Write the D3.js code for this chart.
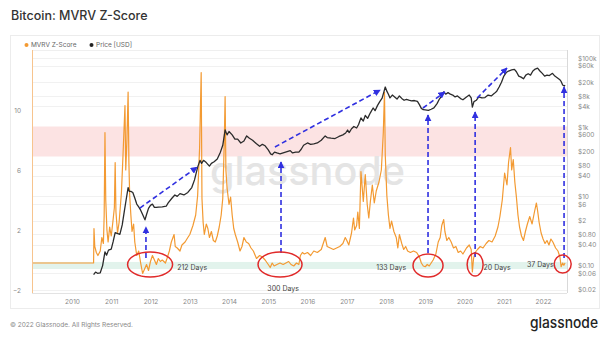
<!DOCTYPE html>
<html>
<head>
<meta charset="utf-8">
<script src="https://cdn.jsdelivr.net/npm/d3@7"></script>
<style>
body { margin: 0; background: #fff; }
text { font-family: Inter, "Open Sans", sans-serif; }
</style>
</head>
<body>
<div class="board"></div>
<script>
// values: [decimal year, value]
var mvrvZ = [
  [2008.98, -0.2], [2010.55, -0.2], [2010.56, 2.1], [2010.58, 0.9], [2010.62, 0.5], [2010.66, 0.3],
  [2010.72, 0.6], [2010.76, 1.5], [2010.8, 1.1], [2010.82, 3.0], [2010.84, 8.5], [2010.86, 4.0],
  [2010.89, 2.0], [2010.92, 1.2], [2010.96, 2.2], [2011.0, 1.6], [2011.04, 2.5], [2011.08, 3.5],
  [2011.1, 6.5], [2011.12, 3.2], [2011.16, 1.8], [2011.2, 2.5], [2011.26, 4.5], [2011.3, 7.0],
  [2011.35, 10.3], [2011.37, 6.0], [2011.4, 8.0], [2011.43, 11.2], [2011.45, 6.5], [2011.47, 4.3],
  [2011.5, 3.0], [2011.53, 1.9], [2011.57, 2.4], [2011.6, 1.2], [2011.65, 0.3], [2011.7, 0.6],
  [2011.75, -0.2], [2011.8, -0.9], [2011.85, -0.6], [2011.9, -0.3], [2011.95, -0.7], [2012.0, -0.1],
  [2012.05, 0.3], [2012.1, 0.0], [2012.15, -0.3], [2012.2, 0.1], [2012.25, -0.1], [2012.3, 0.0],
  [2012.38, -0.2], [2012.42, 0.1], [2012.48, 0.6], [2012.53, 1.2], [2012.6, 1.7], [2012.63, 0.9],
  [2012.68, 0.8], [2012.75, 0.6], [2012.8, 1.0], [2012.88, 1.2], [2012.95, 1.5], [2013.0, 1.7],
  [2013.08, 2.3], [2013.15, 3.0], [2013.2, 4.3], [2013.25, 7.5], [2013.29, 12.5], [2013.31, 4.1],
  [2013.34, 2.5], [2013.37, 1.7], [2013.42, 2.4], [2013.46, 2.1], [2013.5, 1.5], [2013.55, 1.9],
  [2013.6, 1.3], [2013.65, 1.2], [2013.7, 1.6], [2013.75, 2.2], [2013.8, 3.0], [2013.84, 4.1],
  [2013.88, 8.0], [2013.9, 10.9], [2013.92, 6.0], [2013.95, 4.8], [2014.0, 3.7], [2014.04, 4.2],
  [2014.08, 3.0], [2014.12, 2.1], [2014.16, 1.7], [2014.22, 1.2], [2014.28, 0.6], [2014.33, 0.9],
  [2014.38, 1.5], [2014.44, 1.2], [2014.5, 1.1], [2014.56, 0.8], [2014.62, 0.6], [2014.7, 0.1],
  [2014.78, 0.3], [2014.85, 0.2], [2014.92, 0.0], [2015.0, -0.3], [2015.05, -0.5], [2015.1, -0.2],
  [2015.15, -0.4], [2015.22, -0.3], [2015.3, -0.2], [2015.38, -0.3], [2015.45, -0.2], [2015.52, -0.1],
  [2015.58, -0.3], [2015.65, -0.4], [2015.72, -0.2], [2015.78, -0.3], [2015.82, 0.3], [2015.87, 0.5],
  [2015.92, 0.4], [2016.0, 0.5], [2016.08, 0.3], [2016.16, 0.6], [2016.25, 0.5], [2016.35, 0.7],
  [2016.45, 1.5], [2016.5, 0.9], [2016.58, 0.8], [2016.66, 0.7], [2016.74, 0.8], [2016.82, 0.9],
  [2016.9, 1.1], [2016.96, 1.5], [2017.0, 1.3], [2017.05, 1.0], [2017.12, 1.8], [2017.17, 2.8],
  [2017.2, 2.0], [2017.25, 2.3], [2017.28, 3.2], [2017.32, 2.1], [2017.36, 5.9], [2017.42, 3.9],
  [2017.47, 5.7], [2017.52, 3.7], [2017.56, 2.8], [2017.6, 3.9], [2017.65, 5.0], [2017.7, 3.8],
  [2017.75, 4.6], [2017.82, 5.2], [2017.88, 6.0], [2017.93, 8.5], [2017.96, 11.2], [2017.98, 7.0],
  [2018.02, 4.3], [2018.06, 3.0], [2018.1, 2.1], [2018.14, 2.6], [2018.2, 1.9], [2018.26, 1.5],
  [2018.3, 0.8], [2018.34, 1.7], [2018.4, 1.1], [2018.45, 0.7], [2018.5, 0.9], [2018.55, 0.6],
  [2018.62, 0.5], [2018.7, 0.6], [2018.78, 0.5], [2018.85, 0.2], [2018.9, -0.2], [2018.95, -0.4],
  [2019.0, -0.45], [2019.05, -0.3], [2019.1, -0.4], [2019.15, -0.2], [2019.2, 0.0], [2019.27, 0.4],
  [2019.33, 1.2], [2019.38, 1.5], [2019.42, 2.3], [2019.47, 2.7], [2019.5, 1.9], [2019.55, 1.3],
  [2019.6, 1.5], [2019.66, 1.2], [2019.72, 0.8], [2019.78, 0.9], [2019.84, 0.5], [2019.9, 0.6],
  [2019.96, 0.4], [2020.05, 0.8], [2020.12, 1.0], [2020.17, 0.7], [2020.2, -0.8], [2020.23, 0.1],
  [2020.27, 0.5], [2020.33, 0.7], [2020.4, 0.9], [2020.47, 0.8], [2020.55, 1.1], [2020.62, 1.3],
  [2020.7, 1.2], [2020.78, 1.6], [2020.85, 2.2], [2020.9, 2.9], [2020.96, 4.0], [2021.02, 5.8],
  [2021.08, 5.0], [2021.12, 6.5], [2021.17, 7.5], [2021.2, 6.0], [2021.24, 6.7], [2021.28, 5.2],
  [2021.32, 4.2], [2021.36, 3.0], [2021.4, 2.2], [2021.45, 1.6], [2021.5, 1.3], [2021.55, 1.9],
  [2021.6, 2.4], [2021.66, 2.9], [2021.72, 2.4], [2021.78, 3.2], [2021.83, 3.8], [2021.86, 3.3],
  [2021.9, 2.5], [2021.95, 1.8], [2022.0, 1.4], [2022.05, 1.1], [2022.1, 1.3], [2022.15, 1.0],
  [2022.2, 1.4], [2022.25, 1.2], [2022.32, 0.8], [2022.38, 0.6], [2022.43, 0.2], [2022.46, -0.45],
  [2022.5, -0.2], [2022.53, -0.35], [2022.56, -0.2]
];

var price = [
  [2010.55, 0.055], [2010.6, 0.065], [2010.65, 0.06], [2010.72, 0.062], [2010.78, 0.1], [2010.84, 0.25],
  [2010.88, 0.2], [2010.93, 0.28], [2011.0, 0.3], [2011.05, 0.5], [2011.1, 0.9], [2011.15, 0.85],
  [2011.22, 0.8], [2011.28, 1.5], [2011.33, 3.5], [2011.38, 8], [2011.43, 18], [2011.46, 14],
  [2011.5, 14], [2011.55, 13], [2011.6, 9], [2011.65, 6], [2011.7, 5], [2011.75, 4], [2011.8, 3],
  [2011.86, 2.1], [2011.9, 3], [2011.95, 4.5], [2012.0, 5.5], [2012.05, 6], [2012.1, 4.8],
  [2012.15, 4.8], [2012.2, 4.9], [2012.3, 5], [2012.4, 5.2], [2012.45, 6.5], [2012.55, 9],
  [2012.62, 11], [2012.68, 10], [2012.75, 12], [2012.85, 11], [2012.95, 13], [2013.05, 18],
  [2013.12, 30], [2013.2, 70], [2013.26, 110], [2013.3, 90], [2013.35, 110], [2013.42, 95],
  [2013.5, 75], [2013.55, 90], [2013.62, 100], [2013.7, 120], [2013.78, 190], [2013.84, 300],
  [2013.9, 830], [2013.95, 600], [2014.0, 750], [2014.08, 600], [2014.15, 450], [2014.22, 450],
  [2014.3, 350], [2014.38, 400], [2014.45, 560], [2014.52, 480], [2014.6, 420], [2014.7, 330],
  [2014.78, 280], [2014.85, 320], [2014.92, 290], [2015.0, 220], [2015.06, 170], [2015.1, 160],
  [2015.16, 190], [2015.22, 180], [2015.3, 170], [2015.4, 185], [2015.5, 200], [2015.56, 210],
  [2015.62, 180], [2015.7, 190], [2015.78, 190], [2015.84, 230], [2015.9, 300], [2016.0, 350],
  [2016.08, 320], [2016.16, 330], [2016.25, 350], [2016.35, 420], [2016.45, 560], [2016.5, 500],
  [2016.6, 480], [2016.7, 470], [2016.8, 540], [2016.9, 600], [2016.97, 680], [2017.02, 830],
  [2017.06, 700], [2017.12, 900], [2017.18, 1050], [2017.25, 950], [2017.3, 1200], [2017.36, 1860],
  [2017.42, 1500], [2017.47, 2200], [2017.53, 1800], [2017.6, 2600], [2017.67, 3600], [2017.72, 3000],
  [2017.78, 4200], [2017.84, 5500], [2017.9, 6900], [2017.95, 11000], [2017.98, 14500], [2018.02, 11000],
  [2018.06, 9000], [2018.1, 7000], [2018.16, 8500], [2018.22, 7500], [2018.28, 6500], [2018.34, 8000],
  [2018.4, 6800], [2018.46, 6000], [2018.52, 6400], [2018.58, 6100], [2018.65, 5800], [2018.72, 5900],
  [2018.8, 5600], [2018.85, 4500], [2018.9, 3500], [2018.95, 3200], [2019.0, 3150], [2019.08, 3050],
  [2019.15, 3300], [2019.22, 3600], [2019.3, 4800], [2019.36, 6500], [2019.42, 8000], [2019.47, 10500],
  [2019.52, 9000], [2019.58, 10000], [2019.64, 9000], [2019.7, 8500], [2019.76, 7500], [2019.82, 8000],
  [2019.9, 6700], [2019.96, 6200], [2020.05, 7500], [2020.12, 8500], [2020.17, 7000], [2020.2, 3800],
  [2020.24, 5500], [2020.3, 6000], [2020.36, 7500], [2020.44, 7000], [2020.52, 7200], [2020.6, 8500],
  [2020.68, 8000], [2020.76, 9500], [2020.82, 11000], [2020.88, 14500], [2020.94, 20000], [2021.0, 30000],
  [2021.06, 38000], [2021.12, 42000], [2021.2, 45000], [2021.27, 47000], [2021.32, 40000], [2021.38, 30000],
  [2021.44, 28000], [2021.5, 25000], [2021.56, 32000], [2021.62, 35000], [2021.68, 32000], [2021.74, 42000],
  [2021.8, 48000], [2021.86, 51000], [2021.92, 42000], [2021.98, 36000], [2022.04, 30000], [2022.1, 32000],
  [2022.16, 31000], [2022.24, 36000], [2022.3, 30000], [2022.36, 27000], [2022.42, 24000], [2022.46, 21000],
  [2022.5, 16600], [2022.54, 15500], [2022.56, 16500]
];

var yearTicks = [2010, 2011, 2012, 2013, 2014, 2015, 2016, 2017, 2018, 2019, 2020, 2021, 2022];
var zTicks = [-2, 2, 6, 10];
var priceTicks = [100000, 60000, 20000, 8000, 4000, 1000, 600, 200, 80, 40, 10, 6, 2, 0.8, 0.4, 0.1, 0.06, 0.02];
var priceTickLabels = ['$100k', '$60k', '$20k', '$8k', '$4k', '$1k', '$600', '$200', '$80', '$40',
                       '$10', '$6', '$2', '$0.80', '$0.40', '$0.10', '$0.06', '$0.02'];
var redBand = [6.9, 8.9];
var greenBand = [-0.6, -0.13];

// cycle bottoms: ellipse centre (year, z) and label (year, z)
var bottomYears = [2011.99, 2015.30, 2019.07, 2020.27, 2022.50];
var bottomZ = [-0.3, -0.3, -0.37, -0.3, -0.27];
var bottomLabels = ['212 Days', '300 Days', '133 Days', '20 Days', '37 Days'];
var labelYears = [2013.06, 2015.38, 2018.13, 2020.83, 2021.93];
var labelZ = [-0.47, -1.87, -0.47, -0.47, -0.33];

// vertical arrows: [year, from z, to price]
var upArrows = [[2011.885, 0.13, 1.3], [2015.325, 0.47, 98.6], [2019.07, 0.47, 2250],
                [2020.27, 0.2, 2750], [2022.535, 0.13, 14500]];
// rally arrows: [year, price, year, price]
var rallyArrows = [[2011.73, 4.6, 2013.185, 70], [2015.17, 268, 2017.85, 11900],
                   [2018.94, 3590, 2019.5, 10400], [2020.32, 6980, 2021.08, 51400]];

var width = 611, height = 340;
var plotL = 32, plotR = 567, plotT = 50, plotB = 293;
var orange = '#f39a32', blue = '#3030e0';

function yr(d) {
  var y = Math.floor(d);
  var s = Date.UTC(y, 0, 1), e = Date.UTC(y + 1, 0, 1);
  return new Date(s + (d - y) * (e - s));
}

var svg = d3.select('.board')
            .append('svg')
            .attr('width', width)
            .attr('height', height);

var x = d3.scaleUtc().domain([yr(2008.98), yr(2022.61)]).range([plotL, plotR]);
var yz = d3.scaleLinear().domain([-2.2, 14]).range([plotB, plotT]);
var yp = d3.scaleLog().domain([0.01614, 170200]).range([plotB, plotT]);

// title
svg.append('text')
   .attr('x', 11).attr('y', 20)
   .attr('font-size', 12.5).attr('font-weight', 500).attr('fill', '#333')
   .text('Bitcoin: MVRV Z-Score');

// panel frame
svg.append('rect')
   .attr('x', 10.5).attr('y', 35.5).attr('width', 589).attr('height', 273)
   .attr('fill', 'none').attr('stroke', '#ececec');

// legend
var legend = svg.append('g').attr('font-size', 6.5).attr('fill', '#666');
legend.append('circle').attr('cx', 26.5).attr('cy', 45).attr('r', 2).attr('fill', orange);
legend.append('text').attr('x', 31).attr('y', 47.3).text('MVRV Z-Score');
legend.append('circle').attr('cx', 91.5).attr('cy', 45).attr('r', 2).attr('fill', '#222');
legend.append('text').attr('x', 96).attr('y', 47.3).text('Price [USD]');

svg.append('clipPath').attr('id', 'plot')
   .append('rect').attr('x', plotL).attr('y', plotT).attr('width', plotR - plotL).attr('height', plotB - plotT);

var plot = svg.append('g').attr('clip-path', 'url(#plot)');

// gridlines
plot.selectAll('.grid')
    .data(priceTicks)
    .enter()
    .append('line')
    .attr('x1', plotL).attr('x2', plotR)
    .attr('y1', function(d) { return Math.round(yp(d)) + 0.5; })
    .attr('y2', function(d) { return Math.round(yp(d)) + 0.5; })
    .attr('stroke', '#f1f1f1');

// bands
plot.append('rect')
    .attr('x', plotL).attr('width', plotR - plotL)
    .attr('y', yz(redBand[1])).attr('height', yz(redBand[0]) - yz(redBand[1]))
    .attr('fill', '#fce3e3');
plot.append('rect')
    .attr('x', plotL).attr('width', plotR - plotL)
    .attr('y', yz(greenBand[1])).attr('height', yz(greenBand[0]) - yz(greenBand[1]))
    .attr('fill', '#e2f3ec');

// watermark
plot.append('text')
    .attr('x', 210).attr('y', 185)
    .attr('font-size', 40).attr('font-weight', 500)
    .attr('fill', '#e4e4e4')
    .attr('textLength', 195).attr('lengthAdjust', 'spacingAndGlyphs')
    .text('glassnode');

// series
var zLine = d3.line()
              .x(function(d) { return x(yr(d[0])); })
              .y(function(d) { return yz(d[1]); });
var pLine = d3.line()
              .x(function(d) { return x(yr(d[0])); })
              .y(function(d) { return yp(d[1]); });

plot.append('path').datum(mvrvZ)
    .attr('d', zLine).attr('fill', 'none')
    .attr('stroke', orange).attr('stroke-width', 1.2).attr('stroke-linejoin', 'round');
plot.append('path').datum(price)
    .attr('d', pLine).attr('fill', 'none')
    .attr('stroke', '#2b2b2b').attr('stroke-width', 1.3).attr('stroke-linejoin', 'round');

// frame lines
svg.append('line').attr('x1', plotL).attr('x2', plotR).attr('y1', plotT + 0.5).attr('y2', plotT + 0.5).attr('stroke', '#efefef');
svg.append('line').attr('x1', plotL).attr('x2', plotR).attr('y1', plotB + 0.5).attr('y2', plotB + 0.5).attr('stroke', '#e3e3e3');
svg.append('line').attr('x1', plotL + 0.5).attr('x2', plotL + 0.5).attr('y1', plotT).attr('y2', plotB).attr('stroke', '#f7c48e');
svg.append('line').attr('x1', plotR + 0.5).attr('x2', plotR + 0.5).attr('y1', plotT).attr('y2', plotB).attr('stroke', '#d9d9d9');

// axes
var xAxis = svg.append('g')
               .attr('transform', 'translate(0,' + (plotB + 3) + ')')
               .call(d3.axisBottom(x)
                       .tickValues(yearTicks.map(function(d) { return yr(d); }))
                       .tickFormat(d3.utcFormat('%Y'))
                       .tickSize(0));
var zAxis = svg.append('g')
               .attr('transform', 'translate(' + (plotL - 8) + ',0)')
               .call(d3.axisLeft(yz).tickValues(zTicks).tickSize(0));
var pAxis = svg.append('g')
               .attr('transform', 'translate(' + (plotR + 11) + ',0)')
               .call(d3.axisRight(yp).tickValues(priceTicks)
                       .tickFormat(function(d, i) { return priceTickLabels[i]; })
                       .tickSize(0));
[xAxis, zAxis, pAxis].forEach(function(a) {
  a.select('.domain').remove();
  a.selectAll('text').attr('font-family', 'Inter, "Open Sans", sans-serif')
   .attr('font-size', 6.5).attr('fill', '#888');
});
pAxis.selectAll('text').attr('x', 0);

// annotations
svg.append('defs').append('marker')
   .attr('id', 'head').attr('viewBox', '0 0 10 10')
   .attr('refX', 9).attr('refY', 5)
   .attr('markerWidth', 7).attr('markerHeight', 7)
   .attr('markerUnits', 'userSpaceOnUse')
   .attr('orient', 'auto')
   .append('path').attr('d', 'M0,0L10,5L0,10Z').attr('fill', blue);

var notes = svg.append('g');

notes.selectAll('.up')
     .data(upArrows)
     .enter()
     .append('line')
     .attr('x1', function(d) { return x(yr(d[0])); })
     .attr('x2', function(d) { return x(yr(d[0])); })
     .attr('y1', function(d) { return yz(d[1]); })
     .attr('y2', function(d) { return yp(d[2]); })
     .attr('stroke', blue).attr('stroke-width', 1.6)
     .attr('stroke-dasharray', '5,3')
     .attr('marker-end', 'url(#head)');

notes.selectAll('.rally')
     .data(rallyArrows)
     .enter()
     .append('line')
     .attr('x1', function(d) { return x(yr(d[0])); })
     .attr('y1', function(d) { return yp(d[1]); })
     .attr('x2', function(d) { return x(yr(d[2])); })
     .attr('y2', function(d) { return yp(d[3]); })
     .attr('stroke', blue).attr('stroke-width', 1.6)
     .attr('stroke-dasharray', '5,3')
     .attr('marker-end', 'url(#head)');

var rx = [22.5, 22, 15, 8, 8.5], ry = [12.5, 12.5, 11.5, 11.5, 9];
notes.selectAll('ellipse')
     .data(bottomYears)
     .enter()
     .append('ellipse')
     .attr('cx', function(d) { return x(yr(d)); })
     .attr('cy', function(d, i) { return yz(bottomZ[i]); })
     .attr('rx', function(d, i) { return rx[i]; })
     .attr('ry', function(d, i) { return ry[i]; })
     .attr('fill', 'none').attr('stroke', '#e02a2a').attr('stroke-width', 1.5);

notes.selectAll('.days')
     .data(bottomLabels)
     .enter()
     .append('text')
     .attr('x', function(d, i) { return x(yr(labelYears[i])); })
     .attr('y', function(d, i) { return yz(labelZ[i]) + 2.5; })
     .attr('text-anchor', 'middle')
     .attr('font-size', 7).attr('fill', '#444')
     .text(function(d) { return d; });

// footer
svg.append('text')
   .attr('x', 10).attr('y', 327)
   .attr('font-size', 6.5).attr('fill', '#888')
   .text('\u00a9 2022 Glassnode. All Rights Reserved.');
svg.append('text')
   .attr('x', 530).attr('y', 328)
   .attr('font-size', 15).attr('font-weight', 500).attr('fill', '#222')
   .attr('textLength', 68).attr('lengthAdjust', 'spacingAndGlyphs')
   .text('glassnode');
</script>
</body>
</html>
